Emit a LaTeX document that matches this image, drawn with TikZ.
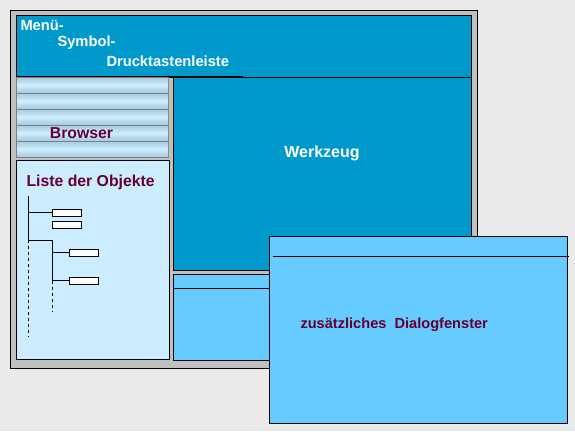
\documentclass[tikz,border=0pt]{standalone}
\usepackage{fontspec}
\setmainfont{Liberation Sans}
\definecolor{bggray}{HTML}{EAEAEA}
\definecolor{framegray}{HTML}{C0C0C0}
\definecolor{toolblue}{HTML}{0099CC}
\definecolor{dlgblue}{HTML}{66CCFF}
\definecolor{listblue}{HTML}{CCECFF}
\definecolor{stripeedge}{HTML}{A9CDE2}
\definecolor{stripemid}{HTML}{CCEEFF}
\definecolor{maroon}{HTML}{660033}
\begin{document}
\begin{tikzpicture}[x=1pt,y=-1pt,line width=1pt,
  pane/.style={draw=black},
  white label/.style={text=white,font=\bfseries\fontsize{14.7}{16}\selectfont,inner sep=0pt},
  red label/.style={text=maroon,font=\bfseries\fontsize{15.8}{17}\selectfont,inner sep=0pt},
  leaf/.style={draw=black,fill=white,minimum width=29pt,minimum height=7pt,inner sep=0pt,line width=1pt}]
\useasboundingbox[fill=bggray] (0,0) rectangle (575,431);

% main window
\draw[pane,fill=framegray] (10,10) rectangle (477,368);
\draw[pane,fill=toolblue] (16,15) rectangle (471,77);
\draw[line width=1.6pt] (16,77) -- (243,77);
\node[white label,anchor=west] (menu) at (20,25) {Menü-};
\node[white label,anchor=west] (symbol) at (57,43) {Symbol-};
\node[white label,anchor=west] (druck) at (106,61) {Drucktastenleiste};

% browser
\fill[gray] (16,77) rectangle (169,158);
\foreach \y in {78,94,110,126,142}
  \shade[top color=stripeedge,bottom color=stripeedge,middle color=stripemid] (17,\y) rectangle (168,\y+14);
\node[red label] (browser) at (81.5,133) {Browser};

% object list
\draw[pane,fill=listblue] (16,160) rectangle (169,359);
\node[red label,anchor=west] (liste) at (26,182) {Liste der Objekte};
\node[leaf,anchor=west] (o1) at (52,212.5) {};
\node[leaf,anchor=west] (o2) at (52,224.5) {};
\node[leaf,anchor=west] (o3) at (69,252.5) {};
\node[leaf,anchor=west] (o4) at (69,280.5) {};
\coordinate (r0) at (28,196);
\coordinate (r1) at (28,212.5);
\coordinate (r2) at (28,240);
\coordinate (r3) at (28,337);
\coordinate (s0) at (52,240);
\coordinate (s1) at (52,252.5);
\coordinate (s2) at (52,280.5);
\coordinate (s3) at (52,311);
\draw (r0) -- (r2) -- (s0) -- (s2);
\draw (r1) -- (o1.west);
\draw (s1) -- (o3.west);
\draw (s2) -- (o4.west);
\draw[dash pattern=on 3pt off 3pt] (r2) -- (r3);
\draw[dash pattern=on 3pt off 3pt] (s2) -- (s3);

% tool area
\draw[pane,fill=toolblue] (173,77) rectangle (471,270);
\node[white label,font=\bfseries\fontsize{16}{18}\selectfont] (werkzeug) at (322,153) {Werkzeug};
\draw[pane,fill=dlgblue] (173,274) rectangle (471,360);
\draw (173,288) -- (471,288);

% dialog
\draw[pane,fill=dlgblue] (269,236) rectangle (567,423);
\draw (273,256) -- (569,256);
\node[text=maroon,font=\bfseries\fontsize{14.6}{16}\selectfont,inner sep=0pt,anchor=west] (dialog) at (300,325) {zusätzliches\ \ Dialogfenster};
\end{tikzpicture}
\end{document}
